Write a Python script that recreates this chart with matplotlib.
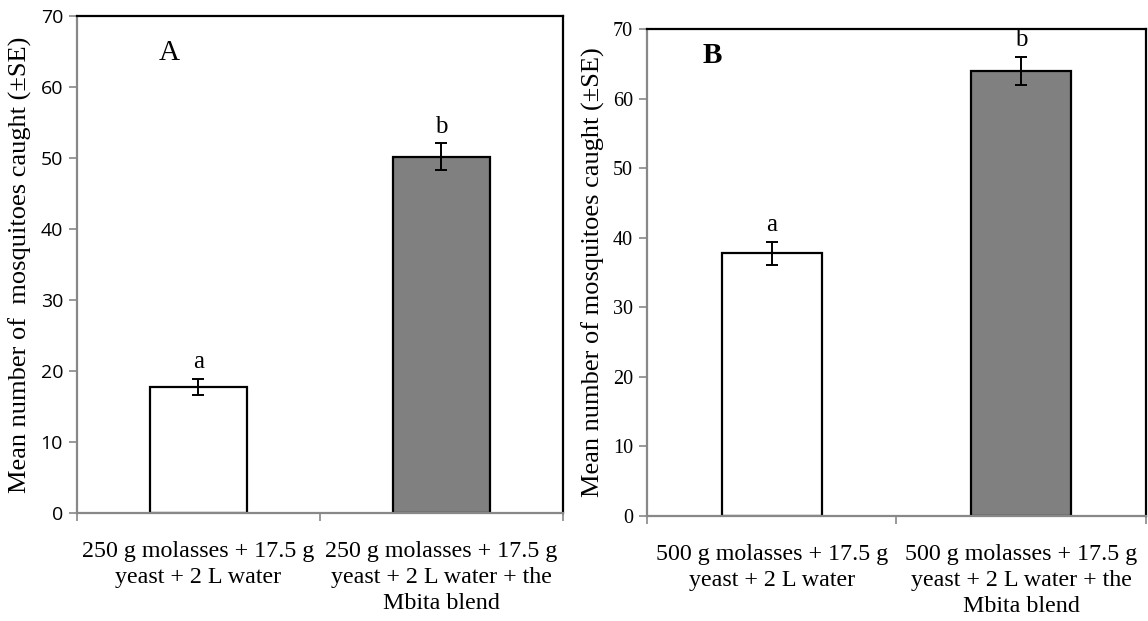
import matplotlib
matplotlib.use("Agg")
import matplotlib.pyplot as plt

categories_a = ["250 g molasses + 17.5 g\nyeast + 2 L water",
                "250 g molasses + 17.5 g\nyeast + 2 L water + the\nMbita blend"]
means_a = [17.7, 50.2]
se_a = [1.15, 1.9]
letters_a = ["a", "b"]

categories_b = ["500 g molasses + 17.5 g\nyeast + 2 L water",
                "500 g molasses + 17.5 g\nyeast + 2 L water + the\nMbita blend"]
means_b = [37.8, 64.0]
se_b = [1.65, 2.0]
letters_b = ["a", "b"]

bar_colors = ["white", "#808080"]
yticks = [0, 10, 20, 30, 40, 50, 60, 70]

SERIF = "Liberation Serif"
SANS = "Open Sans"

fig = plt.figure(figsize=(11.48, 6.21), dpi=100)
axA = fig.add_axes([0.067, 0.174, 0.423, 0.800])
axB = fig.add_axes([0.5636, 0.169, 0.4344, 0.784])


def draw(ax, cats, means, se, letters, label, ylabel, tickfont, tickfs, panel_bold, panel_pos):
    x = list(range(len(cats)))
    ax.bar(x, means, width=0.4, color=bar_colors, edgecolor="black", linewidth=1.6, zorder=2)
    ax.errorbar(x, means, yerr=se, fmt="none", ecolor="black", elinewidth=1.4,
                capsize=4.5, capthick=1.4, zorder=3)
    for xi, m, s, l in zip(x, means, se, letters):
        ax.text(xi, m + s + 0.8, l, ha="center", va="bottom", fontsize=18, family=SERIF)
    ax.set_xlim(-0.5, 1.5)
    ax.set_ylim(0, 70)
    ax.set_yticks(yticks)
    ax.set_yticklabels([str(v) for v in yticks], fontsize=tickfs, family=tickfont)
    ax.set_xticks(x)
    ax.set_xticklabels(cats, fontsize=17.3, family=SERIF, linespacing=1.33)
    ax.tick_params(axis="x", which="major", length=0, pad=20)
    ax.set_xticks([-0.5, 0.5, 1.5], minor=True)
    ax.tick_params(axis="x", which="minor", length=6, color="#888888", width=1.2)
    ax.tick_params(axis="y", which="major", length=6, color="#888888", width=1.2, pad=4)
    for s in ["left", "bottom"]:
        ax.spines[s].set_color("#888888")
        ax.spines[s].set_linewidth(1.6)
    for s in ["top", "right"]:
        ax.spines[s].set_color("black")
        ax.spines[s].set_linewidth(1.6)
    ax.set_ylabel(ylabel, fontsize=19, family=SERIF, labelpad=6)
    ax.text(panel_pos[0], panel_pos[1], label, transform=ax.transAxes, fontsize=21,
            family=SERIF, fontweight="bold" if panel_bold else "normal",
            ha="center", va="center")


draw(axA, categories_a, means_a, se_a, letters_a, "A",
     "Mean number of  mosquitoes caught (\u00b1SE)", SANS, 14, False, (0.19, 0.925))
draw(axB, categories_b, means_b, se_b, letters_b, "B",
     "Mean number of mosquitoes caught (\u00b1SE)", SERIF, 14.5, True, (0.13, 0.945))

fig.savefig("out.png", dpi=100)
